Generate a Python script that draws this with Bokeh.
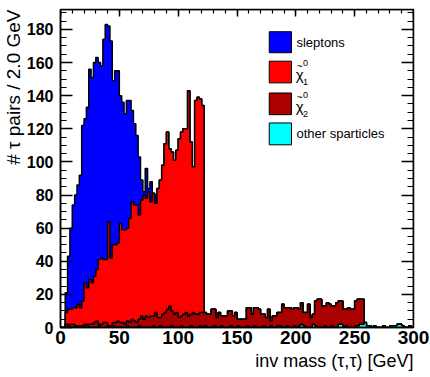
import numpy as np
from bokeh.plotting import figure
from bokeh.models import Range1d, LinearAxis, Label, SingleIntervalTicker, Title, CustomJSTickFormatter
from bokeh.embed import file_html
from bokeh.resources import INLINE

# ---- data: 150 bins of 2 GeV, 0..300 GeV ----
bin_lo = 0.0
bin_width = 2.0

sleptons = [0, 0, 12, 32, 49, 62, 68, 72, 80, 106,
            99, 109, 127, 124, 129, 128, 119, 116, 133, 142,
            118, 131, 99, 105, 104, 77, 77, 70, 77, 71,
            55, 49, 42, 35, 12, 2, 18, 2, 12, 0,
            5, 0, 0, 0, 0, 0, 0, 0, 0, 0,
            0, 0, 0, 0, 0, 0, 0, 0, 0, 0,
            0, 0, 0, 0, 0, 0, 0, 0, 0, 0,
            0, 0, 0, 0, 0, 0, 0, 0, 0, 0,
            0, 0, 0, 0, 0, 0, 0, 0, 0, 0,
            0, 0, 0, 0, 0, 0, 0, 0, 0, 0,
            0, 0, 0, 0, 0, 0, 0, 0, 0, 0,
            0, 0, 0, 0, 0, 0, 0, 0, 0, 0,
            0, 0, 0, 0, 0, 0, 0, 0, 0, 0,
            0, 0, 0, 0, 0, 0, 0, 0, 0, 0,
            0, 0, 0, 0, 0, 0, 0, 0, 0, 0]

chi1 = [0, 0, 7, 9, 9, 10, 11, 13, 11, 15,
        25, 22, 27, 25, 28, 31, 39, 40, 38, 38,
        63, 41, 47, 47, 47, 60, 56, 57, 56, 63,
        71, 70, 71, 63, 70, 75, 71, 76, 69, 74,
        66, 78, 83, 90, 102, 107, 95, 96, 93, 98,
        108, 111, 112, 111, 136, 104, 88, 129, 131, 129,
        125, 0, 0, 0, 0, 0, 0, 0, 0, 0,
        0, 0, 0, 0, 0, 0, 0, 0, 0, 0,
        0, 0, 0, 0, 0, 0, 0, 0, 0, 0,
        0, 0, 0, 0, 0, 0, 0, 0, 0, 0,
        0, 0, 0, 0, 0, 0, 0, 0, 0, 0,
        0, 0, 0, 0, 0, 0, 0, 0, 0, 0,
        0, 0, 0, 0, 0, 0, 0, 0, 0, 0,
        0, 0, 0, 0, 0, 0, 0, 0, 0, 0,
        0, 0, 0, 0, 0, 0, 0, 0, 0, 0]

chi2 = [0, 0, 2, 1, 2, 2, 1, 0, 1, 1,
        2, 1, 2, 2, 3, 4, 1, 2, 3, 3,
        1, 1, 2, 3, 4, 3, 3, 2, 3, 3,
        5, 4, 3, 4, 7, 5, 7, 6, 7, 6,
        9, 6, 5, 8, 9, 11, 13, 9, 8, 9,
        6, 6, 8, 9, 7, 7, 9, 8, 8, 8,
        9, 8, 8, 8, 11, 10, 6, 9, 6, 7,
        7, 10, 9, 7, 9, 4, 5, 5, 5, 11,
        12, 8, 11, 12, 11, 8, 7, 6, 11, 3,
        7, 7, 8, 8, 14, 12, 11, 12, 11, 11,
        12, 10, 13, 8, 9, 14, 6, 6, 15, 17,
        17, 13, 12, 15, 14, 12, 13, 15, 14, 14,
        11, 10, 12, 11, 11, 15, 16, 15, 15, 0,
        0, 0, 0, 0, 0, 0, 0, 0, 0, 0,
        0, 0, 0, 0, 0, 0, 0, 0, 0, 0]

other = [0, 0, 0, 1, 0, 0, 0, 1, 0, 0,
         0, 1, 0, 0, 0, 0, 1, 0, 0, 0,
         0, 0, 1, 0, 0, 0, 0, 0, 1, 0,
         0, 0, 0, 1, 0, 0, 0, 0, 0, 1,
         0, 0, 1, 0, 0, 0, 0, 1, 0, 0,
         0, 1, 0, 0, 0, 1, 0, 0, 0, 1,
         0, 1, 0, 0, 0, 1, 0, 0, 1, 0,
         0, 0, 1, 0, 0, 1, 0, 0, 0, 1,
         0, 0, 1, 0, 0, 0, 1, 0, 0, 1,
         0, 0, 1, 1, 0, 0, 1, 0, 0, 1,
         0, 1, 2, 1, 0, 0, 0, 2, 1, 0,
         0, 0, 1, 0, 0, 1, 0, 0, 2, 2,
         0, 1, 0, 0, 0, 1, 1, 2, 2, 3,
         1, 1, 0, 1, 0, 0, 0, 1, 0, 0,
         1, 1, 1, 2, 2, 1, 0, 0, 1, 0]

legend_labels = ["sleptons", "\u03c7", "\u03c7", "other sparticles"]
x_title = "inv mass (\u03c4,\u03c4) [GeV]"
y_title = "# \u03c4 pairs / 2.0 GeV"

COL_SLEP = "#0000ff"
COL_CHI1 = "#ff0000"
COL_CHI2 = "#aa0000"
COL_OTH = "#00ffff"
FONT = "Liberation Sans"

n = len(other)
edges = bin_lo + bin_width * np.arange(n + 1)
c_oth = np.array(other, dtype=float)
c_chi2 = c_oth + np.array(chi2, dtype=float)
c_chi1 = c_chi2 + np.array(chi1, dtype=float)
c_all = c_chi1 + np.array(sleptons, dtype=float)


def step_poly(h):
    xs = np.repeat(edges, 2)
    ys = np.concatenate([[0.0], np.repeat(h, 2), [0.0]])
    return xs, ys


p = figure(width=430, height=377, x_range=Range1d(0, 300), y_range=Range1d(0, 192),
           output_backend="svg", toolbar_location=None,
           min_border_left=59, min_border_right=17, min_border_top=9, min_border_bottom=50)
p.xgrid.visible = False
p.ygrid.visible = False
p.outline_line_color = "black"
p.outline_line_width = 1.5
p.outline_line_alpha = 1.0
p.background_fill_color = "white"
p.border_fill_color = "white"

for h, col in [(c_all, COL_SLEP), (c_chi1, COL_CHI1), (c_chi2, COL_CHI2), (c_oth, COL_OTH)]:
    xs, ys = step_poly(h)
    p.patch(xs, ys, fill_color=col, line_color="black", line_width=1.5)


def style_axis(ax, tin, tmin, labels=True, size="18px", standoff=4):
    ax.axis_line_color = "black"
    ax.axis_line_width = 1.5
    ax.major_tick_line_color = "black"
    ax.minor_tick_line_color = "black"
    ax.major_tick_line_width = 1.5
    ax.minor_tick_line_width = 1.2
    ax.major_tick_in = tin
    ax.major_tick_out = 0
    ax.minor_tick_in = tmin
    ax.minor_tick_out = 0
    if labels:
        ax.major_label_text_font = FONT
        ax.major_label_text_font_size = size
        ax.major_label_text_font_style = "bold"
        ax.major_label_text_color = "black"
        ax.major_label_standoff = standoff
    else:
        ax.level = "underlay"
        ax.formatter = CustomJSTickFormatter(code="return ''")
        ax.major_label_standoff = 0


xax = p.xaxis[0]
xax.ticker = SingleIntervalTicker(interval=50, num_minor_ticks=5)
style_axis(xax, 0, 0, True, "19px", 3)
yax = p.yaxis[0]
yax.ticker = SingleIntervalTicker(interval=20, num_minor_ticks=4)
style_axis(yax, 12, 6, True, "16px", 7)

top = LinearAxis(ticker=SingleIntervalTicker(interval=50, num_minor_ticks=5))
style_axis(top, 7, 4, False)
p.add_layout(top, "above")
right = LinearAxis(ticker=SingleIntervalTicker(interval=20, num_minor_ticks=4))
style_axis(right, 12, 6, False)
p.add_layout(right, "right")

# axis titles (ROOT style: aligned to the far end of each axis)
p.add_layout(Title(text=x_title, align="right", text_font=FONT, text_font_size="18px",
                   text_font_style="normal", text_color="black", standoff=4, offset=0), "below")
p.add_layout(Title(text=y_title, align="right", text_font=FONT, text_font_size="19px",
                   text_font_style="normal", text_color="black", standoff=0, offset=0), "left")

# legend (ROOT style, no frame)
box_x0, box_x1 = 177.4, 196.3
box_tops = [178.6, 160.8, 141.6, 123.5]
box_bots = [165.9, 147.7, 128.5, 110.3]
cols = [COL_SLEP, COL_CHI1, COL_CHI2, COL_OTH]
p.quad(left=[box_x0] * 4, right=[box_x1] * 4, top=box_tops, bottom=box_bots,
       fill_color=cols, line_color="black", line_width=1)
for i, lab in enumerate(legend_labels):
    yc = 0.5 * (box_tops[i] + box_bots[i])
    if i in (0, 3):
        p.add_layout(Label(x=200.5, y=yc, text=lab, text_align="left", text_baseline="middle",
                           text_font=FONT, text_font_size="13px", text_color="black"))
    else:
        p.add_layout(Label(x=200.0, y=yc - 1.5, text=lab, text_align="left", text_baseline="middle",
                           text_font=FONT, text_font_size="15px", text_color="black"))
        p.add_layout(Label(x=200.8, y=yc + 3.6, text="~", text_align="left", text_baseline="middle",
                           text_font=FONT, text_font_size="10px", text_color="black"))
        p.add_layout(Label(x=206.0, y=yc + 5.5, text="0", text_align="left", text_baseline="middle",
                           text_font=FONT, text_font_size="9px", text_color="black"))
        p.add_layout(Label(x=206.0, y=yc - 6.0, text=str(i), text_align="left", text_baseline="middle",
                           text_font=FONT, text_font_size="9px", text_color="black"))

open("out.html", "w").write(file_html(p, INLINE))
